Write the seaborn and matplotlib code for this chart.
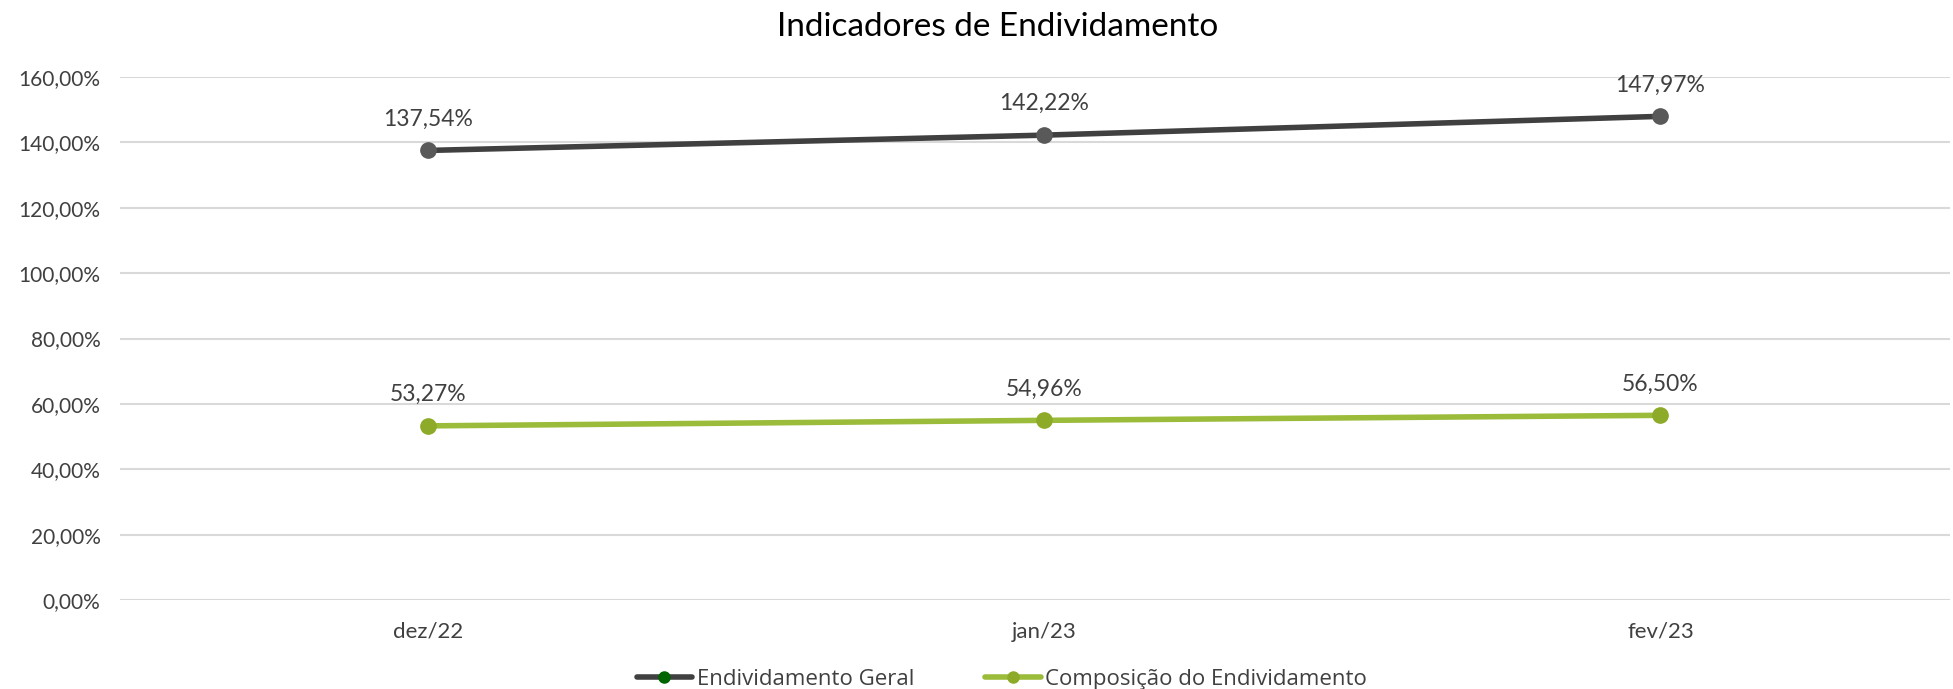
import pandas as pd
import seaborn as sns
import matplotlib.pyplot as plt
from matplotlib.lines import Line2D

# dados
meses = ['dez/22', 'jan/23', 'fev/23']
endividamento_geral = [137.54, 142.22, 147.97]
composicao = [53.27, 54.96, 56.50]
yticks = [0, 20, 40, 60, 80, 100, 120, 140, 160]

df = pd.DataFrame({
    'mes': meses * 2,
    'valor': endividamento_geral + composicao,
    'serie': ['Endividamento Geral'] * 3 + ['Composição do Endividamento'] * 3,
})

sns.set_style('white')
plt.rcParams['font.family'] = ['Lato', 'DejaVu Sans']

fig = plt.figure(figsize=(19.53, 6.89), dpi=100)
ax = fig.add_axes([0.0614, 0.1292, 0.9371, 0.759])

cores_linha = {'Endividamento Geral': '#404040', 'Composição do Endividamento': '#9BBB3B'}
cores_marc = {'Endividamento Geral': '#595959', 'Composição do Endividamento': '#8DAA28'}

for serie, d in df.groupby('serie', sort=False):
    sns.lineplot(data=d, x='mes', y='valor', ax=ax, color=cores_linha[serie],
                 linewidth=4, legend=False, zorder=3)
    ax.plot(d['mes'], d['valor'], 'o', color=cores_marc[serie], markersize=11, zorder=4)
    for i, v in enumerate(d['valor']):
        txt = f'{v:.2f}%'.replace('.', ',')
        ax.annotate(txt, (i, v), xytext=(0, 15), textcoords='offset points',
                    ha='center', va='bottom', fontsize=16.5, color='#404040')

ax.set_ylim(0, 160)
ax.set_xlim(-0.5, 2.47)
ax.set_yticks(yticks)
ax.set_yticklabels([f'{t:.2f}%'.replace('.', ',') for t in yticks], fontsize=15, color='#404040')
ax.tick_params(axis='x', labelsize=16, labelcolor='#404040', pad=12)
ax.tick_params(axis='y', pad=14, length=0)
ax.grid(axis='y', color='#D9D9D9', linewidth=1.5)
ax.set_axisbelow(True)
for s in ax.spines.values():
    s.set_visible(False)
ax.set_xlabel('')
ax.set_ylabel('')

fig.suptitle('Indicadores de Endividamento', fontsize=24, color='black', x=0.511, y=0.983)

handles = [
    Line2D([], [], color='#404040', linewidth=4, marker='o', markersize=8,
           markerfacecolor='#006400', markeredgecolor='#006400'),
    Line2D([], [], color='#9BBB3B', linewidth=4, marker='o', markersize=8,
           markerfacecolor='#8DAA28', markeredgecolor='#8DAA28'),
]
fig.legend(handles, ['Endividamento Geral', 'Composição do Endividamento'],
           loc='lower center', bbox_to_anchor=(0.513, -0.03), ncol=2, frameon=False,
           handlelength=2.5, handletextpad=0.2, columnspacing=3.2,
           prop={'family': ['Open Sans', 'DejaVu Sans'], 'size': 16})
for t in fig.legends[0].get_texts():
    t.set_color('#404040')

fig.savefig('out.png', dpi=100)
